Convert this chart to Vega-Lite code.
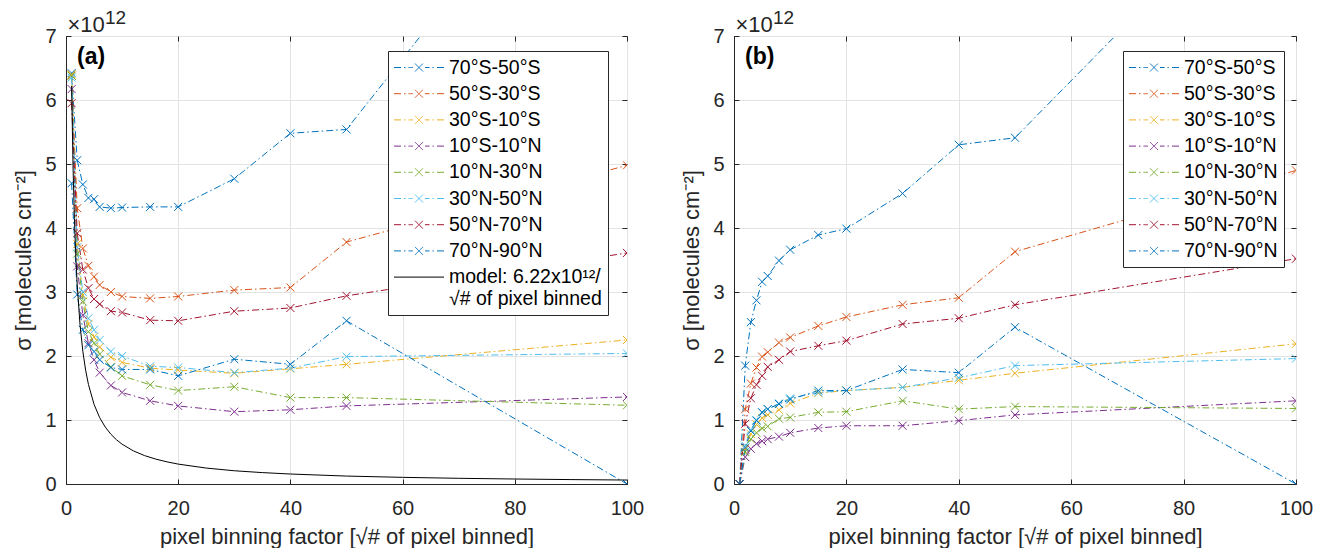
{
  "$schema": "https://vega.github.io/schema/vega-lite/v6.json",
  "padding": {"left": 12, "top": 8, "right": 0, "bottom": 0},
  "background": "white",
  "config": {
    "font": "Liberation Sans",
    "view": {"stroke": "#262626", "strokeWidth": 1},
    "axis": {
      "labelFont": "Liberation Sans", "titleFont": "Liberation Sans",
      "labelFontSize": 20, "titleFontSize": 22, "titleFontWeight": "normal",
      "labelColor": "#262626", "titleColor": "#262626",
      "domainColor": "#262626", "tickColor": "#262626",
      "gridColor": "#e3e3e3", "gridWidth": 1, "labelFlush": false
    },
    "legend": {
      "orient": "none", "legendY": 15, "title": null,
      "strokeColor": "#262626", "fillColor": "white", "padding": 6,
      "labelFont": "Liberation Sans", "labelFontSize": 19.5, "labelColor": "black",
      "symbolSize": 400, "symbolStrokeWidth": 1, "symbolOffset": 14.5, "labelOffset": 19.5,
      "rowPadding": 6.2, "symbolFillColor": "transparent"
    }
  },
  "datasets": {
    "a": [
      {"s":"70°S-50°S","x":1,"y":6.42},{"s":"70°S-50°S","x":2,"y":5.06},{"s":"70°S-50°S","x":3,"y":4.68},{"s":"70°S-50°S","x":4,"y":4.47},{"s":"70°S-50°S","x":5,"y":4.45},{"s":"70°S-50°S","x":6,"y":4.33},{"s":"70°S-50°S","x":8,"y":4.31},{"s":"70°S-50°S","x":10,"y":4.32},{"s":"70°S-50°S","x":15,"y":4.33},{"s":"70°S-50°S","x":20,"y":4.33},{"s":"70°S-50°S","x":30,"y":4.77},{"s":"70°S-50°S","x":40,"y":5.48},{"s":"70°S-50°S","x":50,"y":5.54},{"s":"70°S-50°S","x":100,"y":11.07},
      {"s":"50°S-30°S","x":1,"y":6.38},{"s":"50°S-30°S","x":2,"y":4.31},{"s":"50°S-30°S","x":3,"y":3.68},{"s":"50°S-30°S","x":4,"y":3.41},{"s":"50°S-30°S","x":5,"y":3.24},{"s":"50°S-30°S","x":6,"y":3.11},{"s":"50°S-30°S","x":8,"y":3.0},{"s":"50°S-30°S","x":10,"y":2.93},{"s":"50°S-30°S","x":15,"y":2.9},{"s":"50°S-30°S","x":20,"y":2.93},{"s":"50°S-30°S","x":30,"y":3.03},{"s":"50°S-30°S","x":40,"y":3.07},{"s":"50°S-30°S","x":50,"y":3.78},{"s":"50°S-30°S","x":100,"y":4.98},
      {"s":"30°S-10°S","x":1,"y":6.4},{"s":"30°S-10°S","x":2,"y":3.75},{"s":"30°S-10°S","x":3,"y":2.95},{"s":"30°S-10°S","x":4,"y":2.5},{"s":"30°S-10°S","x":5,"y":2.3},{"s":"30°S-10°S","x":6,"y":2.14},{"s":"30°S-10°S","x":8,"y":1.98},{"s":"30°S-10°S","x":10,"y":1.9},{"s":"30°S-10°S","x":15,"y":1.81},{"s":"30°S-10°S","x":20,"y":1.78},{"s":"30°S-10°S","x":30,"y":1.73},{"s":"30°S-10°S","x":40,"y":1.8},{"s":"30°S-10°S","x":50,"y":1.87},{"s":"30°S-10°S","x":100,"y":2.25},
      {"s":"10°S-10°N","x":1,"y":6.17},{"s":"10°S-10°N","x":2,"y":3.4},{"s":"10°S-10°N","x":3,"y":2.64},{"s":"10°S-10°N","x":4,"y":2.2},{"s":"10°S-10°N","x":5,"y":1.94},{"s":"10°S-10°N","x":6,"y":1.74},{"s":"10°S-10°N","x":8,"y":1.54},{"s":"10°S-10°N","x":10,"y":1.43},{"s":"10°S-10°N","x":15,"y":1.3},{"s":"10°S-10°N","x":20,"y":1.22},{"s":"10°S-10°N","x":30,"y":1.13},{"s":"10°S-10°N","x":40,"y":1.16},{"s":"10°S-10°N","x":50,"y":1.22},{"s":"10°S-10°N","x":100,"y":1.36},
      {"s":"10°N-30°N","x":1,"y":6.38},{"s":"10°N-30°N","x":2,"y":3.6},{"s":"10°N-30°N","x":3,"y":2.85},{"s":"10°N-30°N","x":4,"y":2.38},{"s":"10°N-30°N","x":5,"y":2.2},{"s":"10°N-30°N","x":6,"y":2.03},{"s":"10°N-30°N","x":8,"y":1.83},{"s":"10°N-30°N","x":10,"y":1.69},{"s":"10°N-30°N","x":15,"y":1.55},{"s":"10°N-30°N","x":20,"y":1.46},{"s":"10°N-30°N","x":30,"y":1.52},{"s":"10°N-30°N","x":40,"y":1.35},{"s":"10°N-30°N","x":50,"y":1.35},{"s":"10°N-30°N","x":100,"y":1.23},
      {"s":"30°N-50°N","x":1,"y":6.35},{"s":"30°N-50°N","x":2,"y":3.7},{"s":"30°N-50°N","x":3,"y":3.0},{"s":"30°N-50°N","x":4,"y":2.59},{"s":"30°N-50°N","x":5,"y":2.41},{"s":"30°N-50°N","x":6,"y":2.25},{"s":"30°N-50°N","x":8,"y":2.07},{"s":"30°N-50°N","x":10,"y":2.0},{"s":"30°N-50°N","x":15,"y":1.84},{"s":"30°N-50°N","x":20,"y":1.82},{"s":"30°N-50°N","x":30,"y":1.74},{"s":"30°N-50°N","x":40,"y":1.81},{"s":"30°N-50°N","x":50,"y":1.99},{"s":"30°N-50°N","x":100,"y":2.04},
      {"s":"50°N-70°N","x":1,"y":5.95},{"s":"50°N-70°N","x":2,"y":3.92},{"s":"50°N-70°N","x":3,"y":3.35},{"s":"50°N-70°N","x":4,"y":3.06},{"s":"50°N-70°N","x":5,"y":2.89},{"s":"50°N-70°N","x":6,"y":2.81},{"s":"50°N-70°N","x":8,"y":2.7},{"s":"50°N-70°N","x":10,"y":2.68},{"s":"50°N-70°N","x":15,"y":2.56},{"s":"50°N-70°N","x":20,"y":2.55},{"s":"50°N-70°N","x":30,"y":2.7},{"s":"50°N-70°N","x":40,"y":2.75},{"s":"50°N-70°N","x":50,"y":2.94},{"s":"50°N-70°N","x":100,"y":3.61},
      {"s":"70°N-90°N","x":1,"y":4.7},{"s":"70°N-90°N","x":2,"y":2.96},{"s":"70°N-90°N","x":3,"y":2.41},{"s":"70°N-90°N","x":4,"y":2.17},{"s":"70°N-90°N","x":5,"y":2.07},{"s":"70°N-90°N","x":6,"y":1.94},{"s":"70°N-90°N","x":8,"y":1.82},{"s":"70°N-90°N","x":10,"y":1.79},{"s":"70°N-90°N","x":15,"y":1.79},{"s":"70°N-90°N","x":20,"y":1.69},{"s":"70°N-90°N","x":30,"y":1.95},{"s":"70°N-90°N","x":40,"y":1.87},{"s":"70°N-90°N","x":50,"y":2.55},{"s":"70°N-90°N","x":100,"y":0.0}
    ],
    "model": [
      {"s":"model: 6.22x10¹²/|√# of pixel binned","x":1,"y":6.22},{"s":"model: 6.22x10¹²/|√# of pixel binned","x":1.25,"y":4.976},{"s":"model: 6.22x10¹²/|√# of pixel binned","x":1.5,"y":4.147},{"s":"model: 6.22x10¹²/|√# of pixel binned","x":1.75,"y":3.554},{"s":"model: 6.22x10¹²/|√# of pixel binned","x":2,"y":3.11},{"s":"model: 6.22x10¹²/|√# of pixel binned","x":2.5,"y":2.488},{"s":"model: 6.22x10¹²/|√# of pixel binned","x":3,"y":2.073},{"s":"model: 6.22x10¹²/|√# of pixel binned","x":3.5,"y":1.777},{"s":"model: 6.22x10¹²/|√# of pixel binned","x":4,"y":1.555},{"s":"model: 6.22x10¹²/|√# of pixel binned","x":5,"y":1.244},{"s":"model: 6.22x10¹²/|√# of pixel binned","x":6,"y":1.037},{"s":"model: 6.22x10¹²/|√# of pixel binned","x":7,"y":0.889},{"s":"model: 6.22x10¹²/|√# of pixel binned","x":8,"y":0.778},{"s":"model: 6.22x10¹²/|√# of pixel binned","x":9,"y":0.691},{"s":"model: 6.22x10¹²/|√# of pixel binned","x":10,"y":0.622},{"s":"model: 6.22x10¹²/|√# of pixel binned","x":12,"y":0.518},{"s":"model: 6.22x10¹²/|√# of pixel binned","x":14,"y":0.444},{"s":"model: 6.22x10¹²/|√# of pixel binned","x":16,"y":0.389},{"s":"model: 6.22x10¹²/|√# of pixel binned","x":18,"y":0.346},{"s":"model: 6.22x10¹²/|√# of pixel binned","x":20,"y":0.311},{"s":"model: 6.22x10¹²/|√# of pixel binned","x":25,"y":0.249},{"s":"model: 6.22x10¹²/|√# of pixel binned","x":30,"y":0.207},{"s":"model: 6.22x10¹²/|√# of pixel binned","x":35,"y":0.178},{"s":"model: 6.22x10¹²/|√# of pixel binned","x":40,"y":0.156},{"s":"model: 6.22x10¹²/|√# of pixel binned","x":50,"y":0.124},{"s":"model: 6.22x10¹²/|√# of pixel binned","x":60,"y":0.104},{"s":"model: 6.22x10¹²/|√# of pixel binned","x":70,"y":0.089},{"s":"model: 6.22x10¹²/|√# of pixel binned","x":80,"y":0.078},{"s":"model: 6.22x10¹²/|√# of pixel binned","x":90,"y":0.069},{"s":"model: 6.22x10¹²/|√# of pixel binned","x":100,"y":0.062}
    ],
    "b": [
      {"s":"70°S-50°S","x":1,"y":0},{"s":"70°S-50°S","x":2,"y":1.85},{"s":"70°S-50°S","x":3,"y":2.53},{"s":"70°S-50°S","x":4,"y":2.87},{"s":"70°S-50°S","x":5,"y":3.16},{"s":"70°S-50°S","x":6,"y":3.25},{"s":"70°S-50°S","x":8,"y":3.49},{"s":"70°S-50°S","x":10,"y":3.66},{"s":"70°S-50°S","x":15,"y":3.89},{"s":"70°S-50°S","x":20,"y":3.99},{"s":"70°S-50°S","x":30,"y":4.54},{"s":"70°S-50°S","x":40,"y":5.3},{"s":"70°S-50°S","x":50,"y":5.41},{"s":"70°S-50°S","x":100,"y":9.87},
      {"s":"50°S-30°S","x":1,"y":0},{"s":"50°S-30°S","x":2,"y":1.17},{"s":"50°S-30°S","x":3,"y":1.57},{"s":"50°S-30°S","x":4,"y":1.82},{"s":"50°S-30°S","x":5,"y":1.99},{"s":"50°S-30°S","x":6,"y":2.06},{"s":"50°S-30°S","x":8,"y":2.21},{"s":"50°S-30°S","x":10,"y":2.29},{"s":"50°S-30°S","x":15,"y":2.47},{"s":"50°S-30°S","x":20,"y":2.61},{"s":"50°S-30°S","x":30,"y":2.8},{"s":"50°S-30°S","x":40,"y":2.91},{"s":"50°S-30°S","x":50,"y":3.63},{"s":"50°S-30°S","x":100,"y":4.9},
      {"s":"30°S-10°S","x":1,"y":0},{"s":"30°S-10°S","x":2,"y":0.55},{"s":"30°S-10°S","x":3,"y":0.78},{"s":"30°S-10°S","x":4,"y":0.93},{"s":"30°S-10°S","x":5,"y":1.03},{"s":"30°S-10°S","x":6,"y":1.08},{"s":"30°S-10°S","x":8,"y":1.16},{"s":"30°S-10°S","x":10,"y":1.26},{"s":"30°S-10°S","x":15,"y":1.42},{"s":"30°S-10°S","x":20,"y":1.46},{"s":"30°S-10°S","x":30,"y":1.51},{"s":"30°S-10°S","x":40,"y":1.62},{"s":"30°S-10°S","x":50,"y":1.73},{"s":"30°S-10°S","x":100,"y":2.19},
      {"s":"10°S-10°N","x":1,"y":0},{"s":"10°S-10°N","x":2,"y":0.42},{"s":"10°S-10°N","x":3,"y":0.55},{"s":"10°S-10°N","x":4,"y":0.63},{"s":"10°S-10°N","x":5,"y":0.67},{"s":"10°S-10°N","x":6,"y":0.7},{"s":"10°S-10°N","x":8,"y":0.74},{"s":"10°S-10°N","x":10,"y":0.8},{"s":"10°S-10°N","x":15,"y":0.875},{"s":"10°S-10°N","x":20,"y":0.91},{"s":"10°S-10°N","x":30,"y":0.91},{"s":"10°S-10°N","x":40,"y":0.99},{"s":"10°S-10°N","x":50,"y":1.08},{"s":"10°S-10°N","x":100,"y":1.3},
      {"s":"10°N-30°N","x":1,"y":0},{"s":"10°N-30°N","x":2,"y":0.5},{"s":"10°N-30°N","x":3,"y":0.7},{"s":"10°N-30°N","x":4,"y":0.8},{"s":"10°N-30°N","x":5,"y":0.87},{"s":"10°N-30°N","x":6,"y":0.9},{"s":"10°N-30°N","x":8,"y":1.02},{"s":"10°N-30°N","x":10,"y":1.04},{"s":"10°N-30°N","x":15,"y":1.12},{"s":"10°N-30°N","x":20,"y":1.13},{"s":"10°N-30°N","x":30,"y":1.3},{"s":"10°N-30°N","x":40,"y":1.17},{"s":"10°N-30°N","x":50,"y":1.21},{"s":"10°N-30°N","x":100,"y":1.18},
      {"s":"30°N-50°N","x":1,"y":0},{"s":"30°N-50°N","x":2,"y":0.6},{"s":"30°N-50°N","x":3,"y":0.85},{"s":"30°N-50°N","x":4,"y":1.0},{"s":"30°N-50°N","x":5,"y":1.12},{"s":"30°N-50°N","x":6,"y":1.17},{"s":"30°N-50°N","x":8,"y":1.26},{"s":"30°N-50°N","x":10,"y":1.34},{"s":"30°N-50°N","x":15,"y":1.43},{"s":"30°N-50°N","x":20,"y":1.46},{"s":"30°N-50°N","x":30,"y":1.51},{"s":"30°N-50°N","x":40,"y":1.66},{"s":"30°N-50°N","x":50,"y":1.85},{"s":"30°N-50°N","x":100,"y":1.96},
      {"s":"50°N-70°N","x":1,"y":0},{"s":"50°N-70°N","x":2,"y":0.94},{"s":"50°N-70°N","x":3,"y":1.34},{"s":"50°N-70°N","x":4,"y":1.55},{"s":"50°N-70°N","x":5,"y":1.69},{"s":"50°N-70°N","x":6,"y":1.83},{"s":"50°N-70°N","x":8,"y":1.94},{"s":"50°N-70°N","x":10,"y":2.07},{"s":"50°N-70°N","x":15,"y":2.16},{"s":"50°N-70°N","x":20,"y":2.24},{"s":"50°N-70°N","x":30,"y":2.5},{"s":"50°N-70°N","x":40,"y":2.59},{"s":"50°N-70°N","x":50,"y":2.8},{"s":"50°N-70°N","x":100,"y":3.52},
      {"s":"70°N-90°N","x":1,"y":0},{"s":"70°N-90°N","x":2,"y":0.57},{"s":"70°N-90°N","x":3,"y":0.83},{"s":"70°N-90°N","x":4,"y":0.99},{"s":"70°N-90°N","x":5,"y":1.12},{"s":"70°N-90°N","x":6,"y":1.17},{"s":"70°N-90°N","x":8,"y":1.25},{"s":"70°N-90°N","x":10,"y":1.32},{"s":"70°N-90°N","x":15,"y":1.46},{"s":"70°N-90°N","x":20,"y":1.46},{"s":"70°N-90°N","x":30,"y":1.79},{"s":"70°N-90°N","x":40,"y":1.74},{"s":"70°N-90°N","x":50,"y":2.45},{"s":"70°N-90°N","x":100,"y":0.0}
    ]
  },
  "hconcat": [
    {
      "width": 561, "height": 448,
      "resolve": {"axis": {"x": "independent", "y": "independent"}},
      "layer": [
        {
          "data": {"name": "a"},
          "mark": {"type": "line", "strokeWidth": 1, "strokeDash": [7, 3, 1.5, 3], "clip": true},
          "encoding": {
            "x": {"field": "x", "type": "quantitative", "scale": {"domain": [0, 100], "nice": false},
                  "axis": {"values": [0, 20, 40, 60, 80, 100], "title": "pixel binning factor [√# of pixel binned]", "tickSize": -5, "labelPadding": 19, "titlePadding": 8}},
            "y": {"field": "y", "type": "quantitative", "scale": {"domain": [0, 7], "nice": false},
                  "axis": {"values": [0, 1, 2, 3, 4, 5, 6, 7], "format": "d", "title": "σ [molecules cm⁻²]", "tickSize": -5, "labelPadding": 15, "titlePadding": 9}},
            "color": {"field": "s", "type": "nominal",
              "scale": {"domain": ["70°S-50°S", "50°S-30°S", "30°S-10°S", "10°S-10°N", "10°N-30°N", "30°N-50°N", "50°N-70°N", "70°N-90°N", "model: 6.22x10¹²/|√# of pixel binned"],
                        "range": ["#0072BD", "#D95319", "#EDB120", "#7E2F8E", "#77AC30", "#4DBEEE", "#A2142F", "#0072BD", "#000000"]},
              "legend": {
                "legendX": 322,
                "labelExpr": "split(datum.label, '|')",
                "encode": {"symbols": {"update": {
                  "shape": {"signal": "indexof(datum.value, 'model') === 0 ? 'M-2.5,0H2.5' : 'M-2.5,0H-1.8M-1.5,0H-1.35M-1.05,0H-0.6M-0.4,-0.4L0.4,0.4M-0.4,0.4L0.4,-0.4M0.6,0H1.05M1.35,0H1.5M1.8,0H2.5'"},
                  "strokeDash": {"value": [1, 0]},
                  "fill": {"value": "transparent"}
                }}}
              }}
          }
        },
        {
          "data": {"name": "a"},
          "mark": {"type": "point", "shape": "M-1,-1L1,1M-1,1L1,-1", "size": 64, "filled": false, "strokeWidth": 1, "opacity": 1, "clip": true},
          "encoding": {
            "x": {"field": "x", "type": "quantitative", "axis": {"orient": "top", "values": [0, 20, 40, 60, 80, 100], "labels": false, "title": null, "grid": false, "domain": false, "tickSize": -5}},
            "y": {"field": "y", "type": "quantitative", "axis": {"orient": "right", "values": [0, 1, 2, 3, 4, 5, 6, 7], "labels": false, "title": null, "grid": false, "domain": false, "tickSize": -5}},
            "color": {"field": "s", "type": "nominal"}
          }
        },
        {
          "data": {"name": "model"},
          "mark": {"type": "line", "strokeWidth": 1, "clip": true},
          "encoding": {
            "x": {"field": "x", "type": "quantitative", "axis": null},
            "y": {"field": "y", "type": "quantitative", "axis": null},
            "color": {"field": "s", "type": "nominal"}
          }
        },
        {
          "data": {"values": [{"t": "(a)", "e": "×10", "p": "12"}]},
          "encoding": {
            "x": {"datum": 0, "type": "quantitative", "axis": null},
            "y": {"datum": 7, "type": "quantitative", "axis": null}
          },
          "layer": [
            {"mark": {"type": "text", "align": "left", "baseline": "top", "dx": 11, "dy": 10, "fontSize": 23, "fontWeight": "bold", "color": "black"},
             "encoding": {"text": {"field": "t"}}},
            {"mark": {"type": "text", "align": "left", "baseline": "alphabetic", "dx": 1.5, "dy": -4, "fontSize": 22, "color": "#262626"},
             "encoding": {"text": {"field": "e"}}},
            {"mark": {"type": "text", "align": "left", "baseline": "alphabetic", "dx": 39, "dy": -12, "fontSize": 19, "color": "#262626"},
             "encoding": {"text": {"field": "p"}}}
          ]
        }
      ]
    },
    {
      "width": 562, "height": 448,
      "resolve": {"axis": {"x": "independent", "y": "independent"}},
      "layer": [
        {
          "data": {"name": "b"},
          "mark": {"type": "line", "strokeWidth": 1, "strokeDash": [7, 3, 1.5, 3], "clip": true},
          "encoding": {
            "x": {"field": "x", "type": "quantitative", "scale": {"domain": [0, 100], "nice": false},
                  "axis": {"values": [0, 20, 40, 60, 80, 100], "title": "pixel binning factor [√# of pixel binned]", "tickSize": -5, "labelPadding": 19, "titlePadding": 8}},
            "y": {"field": "y", "type": "quantitative", "scale": {"domain": [0, 7], "nice": false},
                  "axis": {"values": [0, 1, 2, 3, 4, 5, 6, 7], "format": "d", "title": "σ [molecules cm⁻²]", "tickSize": -5, "labelPadding": 15, "titlePadding": 9}},
            "color": {"field": "s", "type": "nominal",
              "scale": {"domain": ["70°S-50°S", "50°S-30°S", "30°S-10°S", "10°S-10°N", "10°N-30°N", "30°N-50°N", "50°N-70°N", "70°N-90°N"],
                        "range": ["#0072BD", "#D95319", "#EDB120", "#7E2F8E", "#77AC30", "#4DBEEE", "#A2142F", "#0072BD"]},
              "legend": {
                "legendX": 389,
                "encode": {"symbols": {"update": {
                  "shape": {"value": "M-2.5,0H-1.8M-1.5,0H-1.35M-1.05,0H-0.6M-0.4,-0.4L0.4,0.4M-0.4,0.4L0.4,-0.4M0.6,0H1.05M1.35,0H1.5M1.8,0H2.5"},
                  "strokeDash": {"value": [1, 0]},
                  "fill": {"value": "transparent"}
                }}}
              }}
          }
        },
        {
          "data": {"name": "b"},
          "mark": {"type": "point", "shape": "M-1,-1L1,1M-1,1L1,-1", "size": 64, "filled": false, "strokeWidth": 1, "opacity": 1, "clip": true},
          "encoding": {
            "x": {"field": "x", "type": "quantitative", "axis": {"orient": "top", "values": [0, 20, 40, 60, 80, 100], "labels": false, "title": null, "grid": false, "domain": false, "tickSize": -5}},
            "y": {"field": "y", "type": "quantitative", "axis": {"orient": "right", "values": [0, 1, 2, 3, 4, 5, 6, 7], "labels": false, "title": null, "grid": false, "domain": false, "tickSize": -5}},
            "color": {"field": "s", "type": "nominal"}
          }
        },
        {
          "data": {"values": [{"t": "(b)", "e": "×10", "p": "12"}]},
          "encoding": {
            "x": {"datum": 0, "type": "quantitative", "axis": null},
            "y": {"datum": 7, "type": "quantitative", "axis": null}
          },
          "layer": [
            {"mark": {"type": "text", "align": "left", "baseline": "top", "dx": 11, "dy": 10, "fontSize": 23, "fontWeight": "bold", "color": "black"},
             "encoding": {"text": {"field": "t"}}},
            {"mark": {"type": "text", "align": "left", "baseline": "alphabetic", "dx": 1.5, "dy": -4, "fontSize": 22, "color": "#262626"},
             "encoding": {"text": {"field": "e"}}},
            {"mark": {"type": "text", "align": "left", "baseline": "alphabetic", "dx": 39, "dy": -12, "fontSize": 19, "color": "#262626"},
             "encoding": {"text": {"field": "p"}}}
          ]
        }
      ]
    }
  ],
  "spacing": 107,
  "bounds": "flush",
  "resolve": {"scale": {"color": "independent"}, "legend": {"color": "independent"}}
}
